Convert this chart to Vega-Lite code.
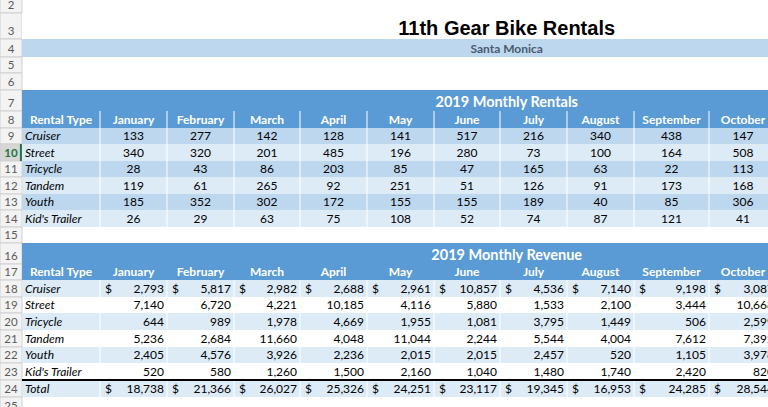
{
  "$schema": "https://vega.github.io/schema/vega-lite/v6.json",
  "width": 768,
  "height": 407,
  "autosize": "none",
  "padding": 0,
  "background": "#ffffff",
  "config": {"view": {"stroke": null}},
  "datasets": {
    "gutter": [
      {"r": 2}, {"r": 3}, {"r": 4}, {"r": 5}, {"r": 6}, {"r": 7}, {"r": 8}, {"r": 9},
      {"r": 10}, {"r": 11}, {"r": 12}, {"r": 13}, {"r": 14}, {"r": 15}, {"r": 16}, {"r": 17},
      {"r": 18}, {"r": 19}, {"r": 20}, {"r": 21}, {"r": 22}, {"r": 23}, {"r": 24}, {"r": 25}
    ],
    "fills": [
      {"r": 3}, {"r": 4}, {"r": 7}, {"r": 8}, {"r": 9}, {"r": 10}, {"r": 11}, {"r": 12},
      {"r": 13}, {"r": 14}, {"r": 16}, {"r": 17}, {"r": 18}, {"r": 20}, {"r": 22}, {"r": 24}
    ],
    "titles": [
      {"r": 3, "c": 8.1, "t": "11th Gear Bike Rentals"},
      {"r": 4, "c": 8.1, "t": "Santa Monica"},
      {"r": 7, "c": 8.1, "t": "2019 Monthly Rentals"},
      {"r": 16, "c": 8.1, "t": "2019 Monthly Revenue"}
    ],
    "cells": [
      {"r": 8, "c": 1, "t": "Rental Type"}, {"r": 8, "c": 2, "t": "January"}, {"r": 8, "c": 3, "t": "February"}, {"r": 8, "c": 4, "t": "March"}, {"r": 8, "c": 5, "t": "April"}, {"r": 8, "c": 6, "t": "May"}, {"r": 8, "c": 7, "t": "June"}, {"r": 8, "c": 8, "t": "July"}, {"r": 8, "c": 9, "t": "August"}, {"r": 8, "c": 10, "t": "September"}, {"r": 8, "c": 11, "t": "October"},
      {"r": 9, "c": 1, "t": "Cruiser"}, {"r": 9, "c": 2, "v": 133}, {"r": 9, "c": 3, "v": 277}, {"r": 9, "c": 4, "v": 142}, {"r": 9, "c": 5, "v": 128}, {"r": 9, "c": 6, "v": 141}, {"r": 9, "c": 7, "v": 517}, {"r": 9, "c": 8, "v": 216}, {"r": 9, "c": 9, "v": 340}, {"r": 9, "c": 10, "v": 438}, {"r": 9, "c": 11, "v": 147},
      {"r": 10, "c": 1, "t": "Street"}, {"r": 10, "c": 2, "v": 340}, {"r": 10, "c": 3, "v": 320}, {"r": 10, "c": 4, "v": 201}, {"r": 10, "c": 5, "v": 485}, {"r": 10, "c": 6, "v": 196}, {"r": 10, "c": 7, "v": 280}, {"r": 10, "c": 8, "v": 73}, {"r": 10, "c": 9, "v": 100}, {"r": 10, "c": 10, "v": 164}, {"r": 10, "c": 11, "v": 508},
      {"r": 11, "c": 1, "t": "Tricycle"}, {"r": 11, "c": 2, "v": 28}, {"r": 11, "c": 3, "v": 43}, {"r": 11, "c": 4, "v": 86}, {"r": 11, "c": 5, "v": 203}, {"r": 11, "c": 6, "v": 85}, {"r": 11, "c": 7, "v": 47}, {"r": 11, "c": 8, "v": 165}, {"r": 11, "c": 9, "v": 63}, {"r": 11, "c": 10, "v": 22}, {"r": 11, "c": 11, "v": 113},
      {"r": 12, "c": 1, "t": "Tandem"}, {"r": 12, "c": 2, "v": 119}, {"r": 12, "c": 3, "v": 61}, {"r": 12, "c": 4, "v": 265}, {"r": 12, "c": 5, "v": 92}, {"r": 12, "c": 6, "v": 251}, {"r": 12, "c": 7, "v": 51}, {"r": 12, "c": 8, "v": 126}, {"r": 12, "c": 9, "v": 91}, {"r": 12, "c": 10, "v": 173}, {"r": 12, "c": 11, "v": 168},
      {"r": 13, "c": 1, "t": "Youth"}, {"r": 13, "c": 2, "v": 185}, {"r": 13, "c": 3, "v": 352}, {"r": 13, "c": 4, "v": 302}, {"r": 13, "c": 5, "v": 172}, {"r": 13, "c": 6, "v": 155}, {"r": 13, "c": 7, "v": 155}, {"r": 13, "c": 8, "v": 189}, {"r": 13, "c": 9, "v": 40}, {"r": 13, "c": 10, "v": 85}, {"r": 13, "c": 11, "v": 306},
      {"r": 14, "c": 1, "t": "Kid's Trailer"}, {"r": 14, "c": 2, "v": 26}, {"r": 14, "c": 3, "v": 29}, {"r": 14, "c": 4, "v": 63}, {"r": 14, "c": 5, "v": 75}, {"r": 14, "c": 6, "v": 108}, {"r": 14, "c": 7, "v": 52}, {"r": 14, "c": 8, "v": 74}, {"r": 14, "c": 9, "v": 87}, {"r": 14, "c": 10, "v": 121}, {"r": 14, "c": 11, "v": 41},
      {"r": 17, "c": 1, "t": "Rental Type"}, {"r": 17, "c": 2, "t": "January"}, {"r": 17, "c": 3, "t": "February"}, {"r": 17, "c": 4, "t": "March"}, {"r": 17, "c": 5, "t": "April"}, {"r": 17, "c": 6, "t": "May"}, {"r": 17, "c": 7, "t": "June"}, {"r": 17, "c": 8, "t": "July"}, {"r": 17, "c": 9, "t": "August"}, {"r": 17, "c": 10, "t": "September"}, {"r": 17, "c": 11, "t": "October"},
      {"r": 18, "c": 1, "t": "Cruiser"}, {"r": 18, "c": 2, "v": 2793}, {"r": 18, "c": 3, "v": 5817}, {"r": 18, "c": 4, "v": 2982}, {"r": 18, "c": 5, "v": 2688}, {"r": 18, "c": 6, "v": 2961}, {"r": 18, "c": 7, "v": 10857}, {"r": 18, "c": 8, "v": 4536}, {"r": 18, "c": 9, "v": 7140}, {"r": 18, "c": 10, "v": 9198}, {"r": 18, "c": 11, "v": 3087},
      {"r": 19, "c": 1, "t": "Street"}, {"r": 19, "c": 2, "v": 7140}, {"r": 19, "c": 3, "v": 6720}, {"r": 19, "c": 4, "v": 4221}, {"r": 19, "c": 5, "v": 10185}, {"r": 19, "c": 6, "v": 4116}, {"r": 19, "c": 7, "v": 5880}, {"r": 19, "c": 8, "v": 1533}, {"r": 19, "c": 9, "v": 2100}, {"r": 19, "c": 10, "v": 3444}, {"r": 19, "c": 11, "v": 10668},
      {"r": 20, "c": 1, "t": "Tricycle"}, {"r": 20, "c": 2, "v": 644}, {"r": 20, "c": 3, "v": 989}, {"r": 20, "c": 4, "v": 1978}, {"r": 20, "c": 5, "v": 4669}, {"r": 20, "c": 6, "v": 1955}, {"r": 20, "c": 7, "v": 1081}, {"r": 20, "c": 8, "v": 3795}, {"r": 20, "c": 9, "v": 1449}, {"r": 20, "c": 10, "v": 506}, {"r": 20, "c": 11, "v": 2599},
      {"r": 21, "c": 1, "t": "Tandem"}, {"r": 21, "c": 2, "v": 5236}, {"r": 21, "c": 3, "v": 2684}, {"r": 21, "c": 4, "v": 11660}, {"r": 21, "c": 5, "v": 4048}, {"r": 21, "c": 6, "v": 11044}, {"r": 21, "c": 7, "v": 2244}, {"r": 21, "c": 8, "v": 5544}, {"r": 21, "c": 9, "v": 4004}, {"r": 21, "c": 10, "v": 7612}, {"r": 21, "c": 11, "v": 7392},
      {"r": 22, "c": 1, "t": "Youth"}, {"r": 22, "c": 2, "v": 2405}, {"r": 22, "c": 3, "v": 4576}, {"r": 22, "c": 4, "v": 3926}, {"r": 22, "c": 5, "v": 2236}, {"r": 22, "c": 6, "v": 2015}, {"r": 22, "c": 7, "v": 2015}, {"r": 22, "c": 8, "v": 2457}, {"r": 22, "c": 9, "v": 520}, {"r": 22, "c": 10, "v": 1105}, {"r": 22, "c": 11, "v": 3978},
      {"r": 23, "c": 1, "t": "Kid's Trailer"}, {"r": 23, "c": 2, "v": 520}, {"r": 23, "c": 3, "v": 580}, {"r": 23, "c": 4, "v": 1260}, {"r": 23, "c": 5, "v": 1500}, {"r": 23, "c": 6, "v": 2160}, {"r": 23, "c": 7, "v": 1040}, {"r": 23, "c": 8, "v": 1480}, {"r": 23, "c": 9, "v": 1740}, {"r": 23, "c": 10, "v": 2420}, {"r": 23, "c": 11, "v": 820},
      {"r": 24, "c": 1, "t": "Total"}, {"r": 24, "c": 2, "v": 18738}, {"r": 24, "c": 3, "v": 21366}, {"r": 24, "c": 4, "v": 26027}, {"r": 24, "c": 5, "v": 25326}, {"r": 24, "c": 6, "v": 24251}, {"r": 24, "c": 7, "v": 23117}, {"r": 24, "c": 8, "v": 19345}, {"r": 24, "c": 9, "v": 16953}, {"r": 24, "c": 10, "v": 24285}, {"r": 24, "c": 11, "v": 28544}
    ]
  },
  "layer": [
    {
      "data": {"name": "gutter"},
      "transform": [{"bin": {"step": 1, "extent": [1, 27]}, "field": "r", "as": ["r0", "r1"]}],
      "mark": {"type": "rect", "stroke": "#d0d0d0", "strokeWidth": 1},
      "encoding": {
        "x": {"datum": 0, "type": "quantitative", "scale": {"type": "linear", "domain": [0,1,2,3,4,5,6,7,8,9,10,11,12], "range": [0,22,100,167,234,300,367,434,500,567,634,709,777], "nice": false, "zero": false}, "axis": null},
        "x2": {"datum": 1},
        "y": {"field": "r0", "type": "quantitative", "scale": {"type": "linear", "domain": [2,3,4,5,6,7,8,9,10,11,12,13,14,15,16,17,18,19,20,21,22,23,24,25,26], "range": [-4,13,39,57,73,90,111,128,144,161,177,194,210,227,243,264,280,297,313,330,347,363,380,397,414], "nice": false, "zero": false}, "axis": null},
        "y2": {"field": "r1"},
        "fill": {"condition": {"test": "datum.r === 10", "value": "#d6d6d6"}, "value": "#f3f3f3"}
      }
    },
    {
      "data": {"name": "gutter"},
      "transform": [{"filter": "datum.r !== 10"}, {"bin": {"step": 1, "extent": [1, 27]}, "field": "r", "as": ["r0", "r1"]}],
      "mark": {"type": "text", "font": "Lato", "fontSize": 11.5, "align": "center", "baseline": "alphabetic", "dy": -4, "color": "#5a5a5a"},
      "encoding": {
        "x": {"datum": 0.5, "type": "quantitative", "axis": null},
        "y": {"field": "r1", "type": "quantitative", "axis": null},
        "text": {"field": "r", "type": "nominal"}
      }
    },
    {
      "data": {"name": "gutter"},
      "transform": [{"filter": "datum.r === 10"}, {"bin": {"step": 1, "extent": [1, 27]}, "field": "r", "as": ["r0", "r1"]}],
      "mark": {"type": "text", "font": "Lato", "fontWeight": "bold", "fontSize": 11.5, "align": "center", "baseline": "alphabetic", "dy": -4, "color": "#217346"},
      "encoding": {
        "x": {"datum": 0.5, "type": "quantitative", "axis": null},
        "y": {"field": "r1", "type": "quantitative", "axis": null},
        "text": {"field": "r", "type": "nominal"}
      }
    },
    {
      "data": {"name": "gutter"},
      "transform": [{"filter": "datum.r === 10"}, {"bin": {"step": 1, "extent": [1, 27]}, "field": "r", "as": ["r0", "r1"]}],
      "mark": {"type": "rule", "color": "#217346", "strokeWidth": 2},
      "encoding": {
        "x": {"datum": 0.95, "type": "quantitative", "axis": null},
        "y": {"field": "r0", "type": "quantitative", "axis": null},
        "y2": {"field": "r1"}
      }
    },
    {
      "data": {"name": "fills"},
      "transform": [{"bin": {"step": 1, "extent": [1, 27]}, "field": "r", "as": ["r0", "r1"]}],
      "mark": {"type": "rect"},
      "encoding": {
        "x": {"datum": 1, "type": "quantitative", "axis": null},
        "x2": {"datum": 12},
        "y": {"field": "r0", "type": "quantitative", "axis": null},
        "y2": {"field": "r1"},
        "fill": {"field": "r", "type": "ordinal", "legend": null, "scale": {"domain": [3,4,7,8,9,10,11,12,13,14,16,17,18,20,22,24], "range": ["#ffffff","#bdd7ee","#5b9bd5","#5b9bd5","#bdd7ee","#ddebf7","#bdd7ee","#ddebf7","#bdd7ee","#ddebf7","#5b9bd5","#5b9bd5","#ddebf7","#ddebf7","#ddebf7","#ddebf7"]}}
      }
    },
    {
      "data": {"name": "cells"},
      "transform": [
        {"filter": "datum.c >= 2 && (datum.r <= 14 || datum.r % 2 === 0)"},
        {"bin": {"step": 1, "extent": [0, 13]}, "field": "c", "as": ["c0", "c1"]},
        {"bin": {"step": 1, "extent": [1, 27]}, "field": "r", "as": ["r0", "r1"]}
      ],
      "mark": {"type": "rule", "color": "#ffffff", "strokeWidth": 1},
      "encoding": {
        "x": {"field": "c0", "type": "quantitative", "axis": {"values": [1,2,3,4,5,6,7,8,9,10,11,12], "grid": true, "gridColor": "#d9d9d9", "gridWidth": 1, "labels": false, "ticks": false, "domain": false, "title": null}},
        "y": {"field": "r0", "type": "quantitative", "axis": {"values": [3,4,5,6,7,8,9,10,11,12,13,14,15,16,17,18,19,20,21,22,23,24,25], "grid": true, "gridColor": "#d9d9d9", "gridWidth": 1, "labels": false, "ticks": false, "domain": false, "title": null}},
        "y2": {"field": "r1"}
      }
    },
    {
      "data": {"name": "cells"},
      "transform": [
        {"filter": "datum.r === 24"},
        {"bin": {"step": 1, "extent": [0, 13]}, "field": "c", "as": ["c0", "c1"]},
        {"bin": {"step": 1, "extent": [1, 27]}, "field": "r", "as": ["r0", "r1"]}
      ],
      "mark": {"type": "rule", "color": "#000000", "strokeWidth": 2},
      "encoding": {
        "x": {"field": "c0", "type": "quantitative", "axis": null},
        "x2": {"field": "c1"},
        "y": {"field": "r0", "type": "quantitative", "axis": null}
      }
    },
    {
      "data": {"name": "titles"},
      "transform": [{"filter": "datum.r === 3"}, {"bin": {"step": 1, "extent": [1, 27]}, "field": "r", "as": ["r0", "r1"]}],
      "mark": {"type": "text", "font": "Liberation Sans", "fontWeight": "bold", "fontSize": 20, "align": "center", "baseline": "alphabetic", "dy": -4, "color": "#000000"},
      "encoding": {
        "x": {"field": "c", "type": "quantitative", "axis": null},
        "y": {"field": "r1", "type": "quantitative", "axis": null},
        "text": {"field": "t", "type": "nominal"}
      }
    },
    {
      "data": {"name": "titles"},
      "transform": [{"filter": "datum.r !== 3"}, {"bin": {"step": 1, "extent": [1, 27]}, "field": "r", "as": ["r0", "r1"]}],
      "mark": {"type": "text", "font": "Lato", "fontWeight": "bold", "align": "center", "baseline": "alphabetic", "dy": -4},
      "encoding": {
        "x": {"field": "c", "type": "quantitative", "axis": null},
        "y": {"field": "r1", "type": "quantitative", "axis": null},
        "text": {"field": "t", "type": "nominal"},
        "size": {"condition": {"test": "datum.r === 4", "value": 12}, "value": 14.5},
        "color": {"condition": {"test": "datum.r === 4", "value": "#4a5a6e"}, "value": "#ffffff"}
      }
    },
    {
      "data": {"name": "cells"},
      "transform": [
        {"filter": "datum.r === 8 || datum.r === 17"},
        {"bin": {"step": 1, "extent": [1, 27]}, "field": "r", "as": ["r0", "r1"]}
      ],
      "mark": {"type": "text", "font": "Lato", "fontWeight": "bold", "fontSize": 12, "align": "center", "baseline": "alphabetic", "dy": -4, "color": "#ffffff"},
      "encoding": {
        "x": {"field": "c", "type": "quantitative", "bin": {"step": 1, "extent": [0, 13]}, "axis": null},
        "y": {"field": "r1", "type": "quantitative", "axis": null},
        "text": {"field": "t", "type": "nominal"}
      }
    },
    {
      "data": {"name": "cells"},
      "transform": [
        {"filter": "datum.c === 1 && datum.r !== 8 && datum.r !== 17"},
        {"bin": {"step": 1, "extent": [0, 13]}, "field": "c", "as": ["c0", "c1"]},
        {"bin": {"step": 1, "extent": [1, 27]}, "field": "r", "as": ["r0", "r1"]}
      ],
      "mark": {"type": "text", "font": "Lato", "fontStyle": "italic", "fontSize": 12, "align": "left", "baseline": "alphabetic", "dx": 3, "dy": -4, "color": "#000000"},
      "encoding": {
        "x": {"field": "c0", "type": "quantitative", "axis": null},
        "y": {"field": "r1", "type": "quantitative", "axis": null},
        "text": {"field": "t", "type": "nominal"}
      }
    },
    {
      "data": {"name": "cells"},
      "transform": [
        {"filter": "datum.c >= 2 && datum.r >= 9 && datum.r <= 14"},
        {"bin": {"step": 1, "extent": [1, 27]}, "field": "r", "as": ["r0", "r1"]}
      ],
      "mark": {"type": "text", "font": "Lato", "fontSize": 12, "align": "center", "baseline": "alphabetic", "dy": -4, "color": "#000000"},
      "encoding": {
        "x": {"field": "c", "type": "quantitative", "bin": {"step": 1, "extent": [0, 13]}, "axis": null},
        "y": {"field": "r1", "type": "quantitative", "axis": null},
        "text": {"field": "v", "type": "quantitative", "format": ","}
      }
    },
    {
      "data": {"name": "cells"},
      "transform": [
        {"filter": "datum.c >= 2 && datum.r >= 18"},
        {"bin": {"step": 1, "extent": [0, 13]}, "field": "c", "as": ["c0", "c1"]},
        {"bin": {"step": 1, "extent": [1, 27]}, "field": "r", "as": ["r0", "r1"]}
      ],
      "mark": {"type": "text", "font": "Lato", "fontSize": 12, "align": "right", "baseline": "alphabetic", "dx": -3, "dy": -4, "color": "#000000"},
      "encoding": {
        "x": {"field": "c1", "type": "quantitative", "axis": null},
        "y": {"field": "r1", "type": "quantitative", "axis": null},
        "text": {"field": "v", "type": "quantitative", "format": ","}
      }
    },
    {
      "data": {"name": "cells"},
      "transform": [
        {"filter": "datum.c >= 2 && (datum.r === 18 || datum.r === 24)"},
        {"bin": {"step": 1, "extent": [0, 13]}, "field": "c", "as": ["c0", "c1"]},
        {"bin": {"step": 1, "extent": [1, 27]}, "field": "r", "as": ["r0", "r1"]}
      ],
      "mark": {"type": "text", "font": "Lato", "fontSize": 12, "align": "left", "baseline": "alphabetic", "dx": 5, "dy": -4, "color": "#000000", "text": "$"},
      "encoding": {
        "x": {"field": "c0", "type": "quantitative", "axis": null},
        "y": {"field": "r1", "type": "quantitative", "axis": null}
      }
    }
  ]
}
